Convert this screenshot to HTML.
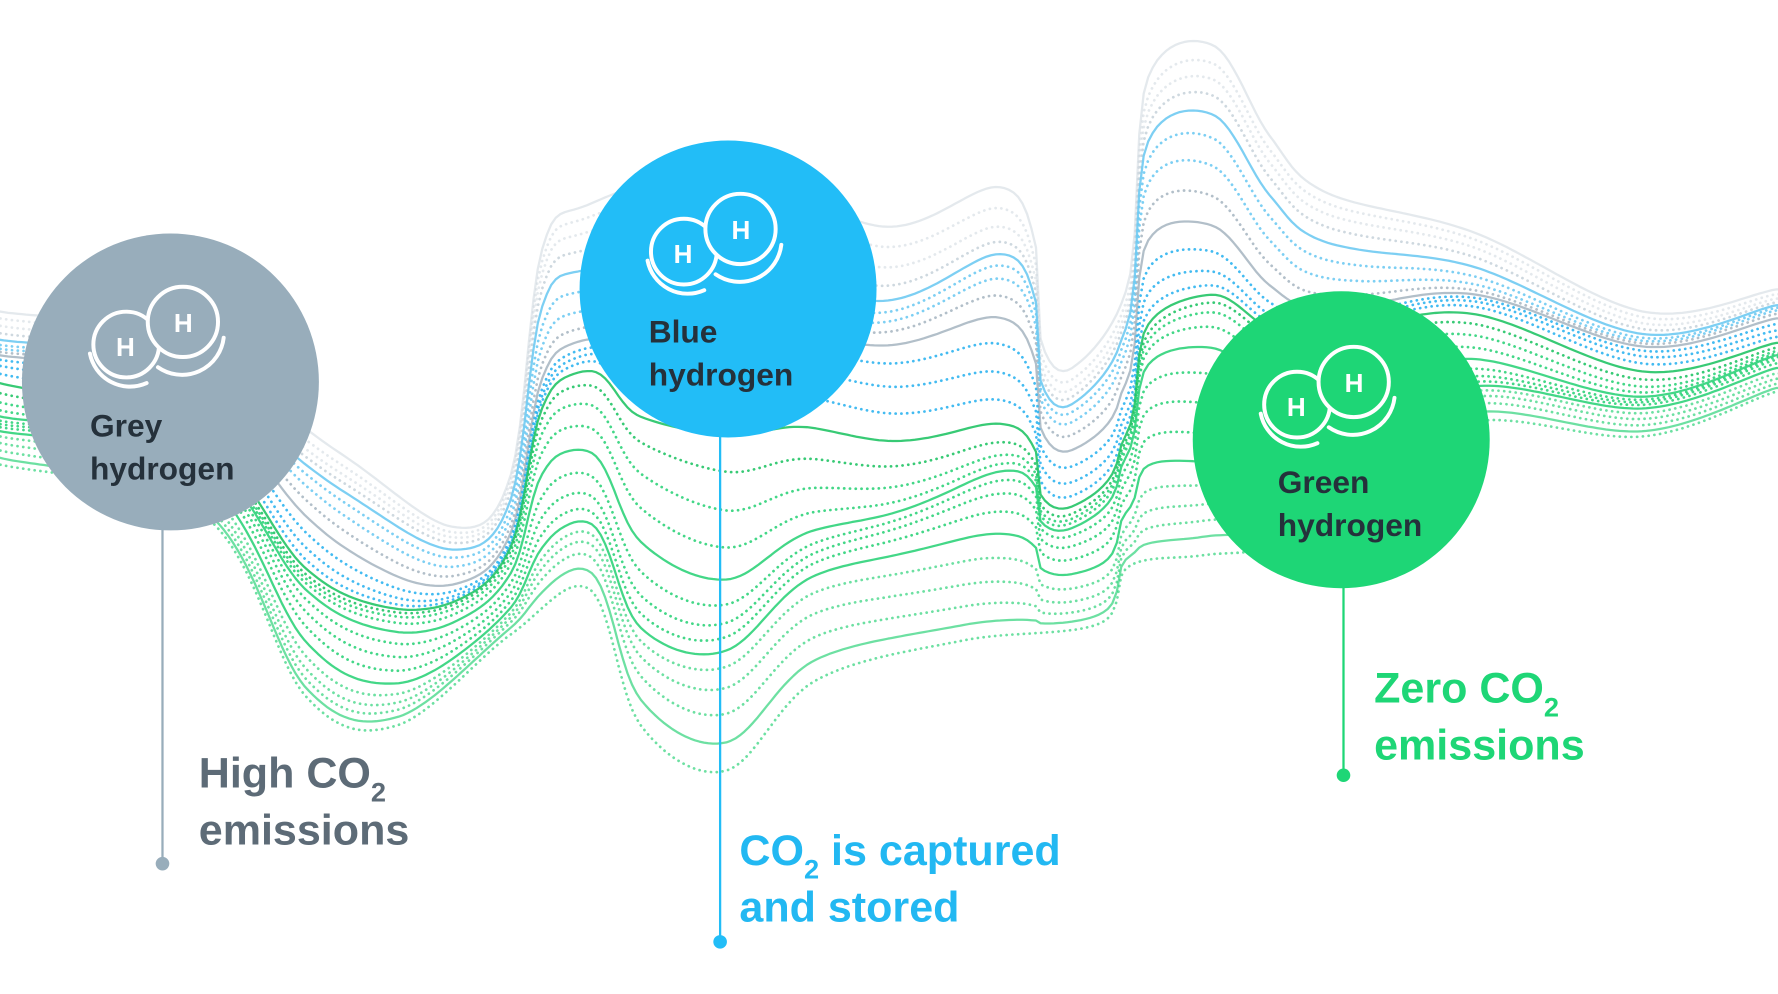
<!DOCTYPE html>
<html><head><meta charset="utf-8">
<style>
html,body{margin:0;padding:0;background:#fff;}
svg{display:block;}
text{font-family:"Liberation Sans",sans-serif;}
</style></head>
<body>
<svg id="s" width="1778" height="994" viewBox="0 0 1568 877" xmlns="http://www.w3.org/2000/svg">
<g id="waves"></g>
<line x1="143" y1="460" x2="143" y2="762" stroke="#98adbb" stroke-width="2"/>
<circle cx="143" cy="762" r="6" fill="#98adbb"/>
<line x1="635" y1="380" x2="635" y2="831" stroke="#22bdf7" stroke-width="2"/>
<circle cx="635" cy="831" r="6" fill="#22bdf7"/>
<line x1="1185" y1="510" x2="1185" y2="684" stroke="#1ed676" stroke-width="2"/>
<circle cx="1185" cy="684" r="6" fill="#1ed676"/>
<circle cx="150" cy="337" r="131" fill="#98adbb"/>
<circle cx="642" cy="255" r="131" fill="#22bdf7"/>
<circle cx="1183" cy="388" r="131" fill="#1ed676"/>
<g id="icons"></g>
<g font-weight="bold" font-size="28" fill="#25313b">
<text x="79" y="385">Grey</text><text x="79" y="423">hydrogen</text>
<text x="572" y="302">Blue</text><text x="572" y="340">hydrogen</text>
<text x="1127" y="435">Green</text><text x="1127" y="473">hydrogen</text>
</g>
<g font-weight="bold" font-size="38">
<text x="175" y="695" fill="#5d6b77">High CO<tspan font-size="24" dy="12">2</tspan></text>
<text x="175" y="745" fill="#5d6b77">emissions</text>
<text x="652" y="763" fill="#22b8f2">CO<tspan font-size="24" dy="12">2</tspan><tspan dy="-12"> is captured</tspan></text>
<text x="652" y="813" fill="#22b8f2">and stored</text>
<text x="1212" y="620" fill="#1ed676">Zero CO<tspan font-size="24" dy="12">2</tspan></text>
<text x="1212" y="670" fill="#1ed676">emissions</text>
</g>
</svg>
<script>
(function(){
var NS="http://www.w3.org/2000/svg";
var topC=[[-30,270],[0,275],[150,300],[300,400],[400,465],[450,420],[478,220],[520,180],[640,150],[780,200],[880,165],[912,210],[918,300],[945,325],[995,250],[1012,70],[1070,40],[1120,120],[1170,170],[1300,205],[1450,275],[1568,255],[1600,250]];
var botC=[[-30,405],[0,410],[180,455],[270,615],[350,640],[450,560],[520,520],[565,640],[640,680],[720,600],[850,565],[970,550],[995,500],[1060,490],[1130,480],[1200,430],[1300,372],[1450,385],[1568,345],[1600,340]];
function cr(p){var out=[];for(var i=1;i<p.length-2;i++){var p0=p[i-1],p1=p[i],p2=p[i+1],p3=p[i+2];for(var t=0;t<1;t+=0.02){var t2=t*t,t3=t2*t;var f=function(a,b,c,d){return 0.5*((2*b)+(-a+c)*t+(2*a-5*b+4*c-d)*t2+(-a+3*b-3*c+d)*t3);};out.push([f(p0[0],p1[0],p2[0],p3[0]),f(p0[1],p1[1],p2[1],p3[1])]);}}return out;}
function atX(d,x){for(var i=0;i<d.length-1;i++){if(d[i+1][0]>=x){var a=d[i],b=d[i+1];var t=(x-a[0])/((b[0]-a[0])||1);return a[1]+(b[1]-a[1])*t;}}return d[d.length-1][1];}
var DT=cr(topC),DB=cr(botC);
var N=400,T=[],B=[];for(var i=0;i<N;i++){var x=-5+i*(1580/(N-1));T.push([x,atX(DT,x)]);B.push([x,atX(DB,x)]);}
function pathD(pts){var d="M"+pts[0][0].toFixed(1)+","+pts[0][1].toFixed(1);for(var i=1;i<pts.length;i++){d+=" L"+pts[i][0].toFixed(1)+","+pts[i][1].toFixed(1);}return d;}
var L=26,g=document.getElementById("waves");
for(var k=0;k<L;k++){var f=k/(L-1);var pts=[];for(var i=0;i<N;i++){var ff=f+0.05*Math.sin(i*0.035+k*0.5)*f*(1-f)*4;pts.push([T[i][0],T[i][1]*(1-ff)+B[i][1]*ff]);}
var col;if(f<0.15)col="#c9d4dc";else if(f<0.25)col="#6fcaf2";else if(f<0.35)col="#aab8c3";else if(f<0.45)col="#2fb4ef";else if(f<0.55)col="#22c466";else col="#2fd37a";
var el=document.createElementNS(NS,"path");el.setAttribute("d",pathD(pts));el.setAttribute("fill","none");el.setAttribute("stroke",col);el.setAttribute("stroke-linejoin","round");
var solid=(k%4==0);el.setAttribute("stroke-width",solid?2:2.4);if(!solid){el.setAttribute("stroke-dasharray","0.1 5");el.setAttribute("stroke-linecap","round");}
el.setAttribute("opacity",f<0.1?0.5:(f>0.8?0.7:0.9));g.appendChild(el);}
var ic=document.getElementById("icons");
[[143,292,'#98adbb'],[635,210,'#22bdf7'],[1176,345,'#1ed676']].forEach(function(c){var x=c[0],y=c[1];
var s='<g fill="none" stroke="#fff" stroke-width="3.5" stroke-linecap="round">'+
'<circle cx="'+(x-32)+'" cy="'+(y+12)+'" r="29"/>'+
'<path d="M'+(x-64)+','+(y+20)+' A36,36 0 0 0 '+(x-14)+','+(y+46)+'"/>'+
'<circle cx="'+(x+18)+'" cy="'+(y-8)+'" r="31" fill="'+c[2]+'"/>'+
'<path d="M'+(x-4)+','+(y+32)+' A37,37 0 0 0 '+(x+54)+','+(y+6)+'"/></g>'+
'<text x="'+(x-41)+'" y="'+(y+22)+'" fill="#fff" font-size="23" font-weight="bold">H</text>'+
'<text x="'+(x+10)+'" y="'+(y+1)+'" fill="#fff" font-size="23" font-weight="bold">H</text>';
var tmp=document.createElementNS(NS,"g");tmp.innerHTML=s;ic.appendChild(tmp);});
})();
</script>
</body></html>
